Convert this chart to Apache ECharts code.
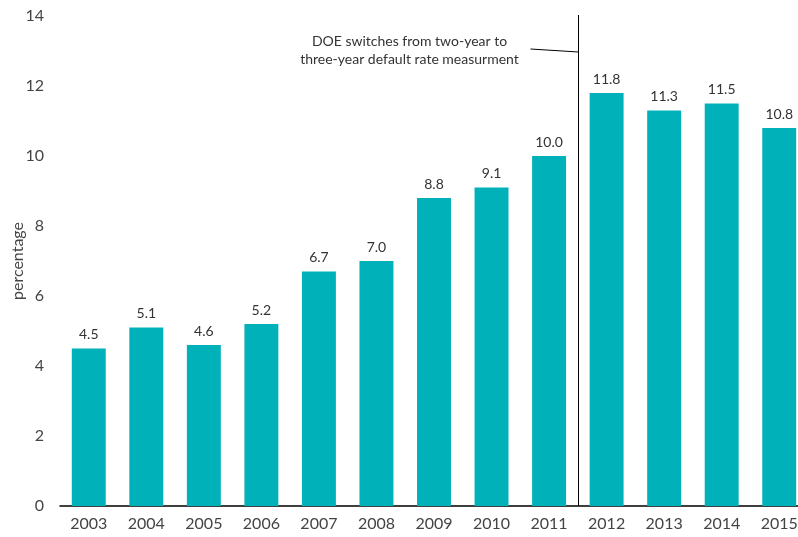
<!DOCTYPE html>
<html>
<head>
<meta charset="utf-8">
<script src="https://cdn.jsdelivr.net/npm/echarts@6/dist/echarts.min.js"></script>
<style>
  html, body { margin: 0; padding: 0; background: #fff; }
  #chart { width: 798px; height: 537px; }
</style>
</head>
<body>
<div id="chart"></div>
<script>
const years = ['2003', '2004', '2005', '2006', '2007', '2008', '2009', '2010', '2011', '2012', '2013', '2014', '2015']
const rates = [4.5, 5.1, 4.6, 5.2, 6.7, 7.0, 8.8, 9.1, 10.0, 11.8, 11.3, 11.5, 10.8]
const yTicks = [0, 2, 4, 6, 8, 10, 12, 14]
const noteLines = ['DOE switches from two-year to', 'three-year default rate measurment']
// the switch happens between these two years
const switchAfter = '2011'
const switchBefore = '2012'

const font = 'Lato'
const chart = echarts.init(document.getElementById('chart'))

const option = {
  animation: false,
  textStyle: { fontFamily: font },
  grid: { left: 60, right: -10, top: 16, bottom: 31, outerBoundsMode: 'none' },
  xAxis: {
    type: 'category',
    data: years,
    axisTick: { show: false },
    axisLine: { lineStyle: { color: '#000', width: 1.5 } },
    axisLabel: { color: '#444', fontSize: 16, margin: 10, fontFamily: font }
  },
  yAxis: {
    type: 'value',
    min: yTicks[0],
    max: yTicks[yTicks.length - 1],
    interval: 2,
    name: 'percentage',
    nameLocation: 'middle',
    nameGap: 34,
    nameMoveOverlap: false,
    nameTextStyle: { color: '#444', fontSize: 16, fontFamily: font },
    splitLine: { show: false },
    axisLine: { show: false },
    axisTick: { show: false },
    axisLabel: { color: '#444', fontSize: 16, margin: 16, fontFamily: font }
  },
  series: [
    {
      type: 'bar',
      data: rates,
      barCategoryGap: '41%',
      itemStyle: { color: '#00B1BA' },
      label: {
        show: true,
        position: 'top',
        distance: 7,
        color: '#333',
        fontSize: 14,
        fontFamily: font,
        formatter: (p) => p.value.toFixed(1)
      }
    }
  ]
}

chart.setOption(option)

// divider + note, placed from the axis scales
const xa = chart.convertToPixel({ xAxisIndex: 0 }, switchAfter)
const xb = chart.convertToPixel({ xAxisIndex: 0 }, switchBefore)
const divX = Math.round((xa + xb) / 2) + 0.5
const yTop = chart.convertToPixel({ yAxisIndex: 0 }, 14)
const yBase = chart.convertToPixel({ yAxisIndex: 0 }, 0)

chart.setOption({
  graphic: [
    {
      type: 'line',
      shape: { x1: divX, y1: yTop - 1, x2: divX, y2: yBase },
      style: { stroke: '#000', lineWidth: 1 }
    },
    {
      type: 'line',
      shape: { x1: divX - 48, y1: yTop + 33, x2: divX, y2: yTop + 36 },
      style: { stroke: '#000', lineWidth: 1 }
    },
    {
      type: 'text',
      x: divX - 169,
      y: yTop + 34,
      style: {
        text: noteLines.join('\n'),
        align: 'center',
        verticalAlign: 'middle',
        fontSize: 14,
        lineHeight: 18,
        fontFamily: font,
        fill: '#333'
      }
    }
  ]
})
</script>
</body>
</html>
